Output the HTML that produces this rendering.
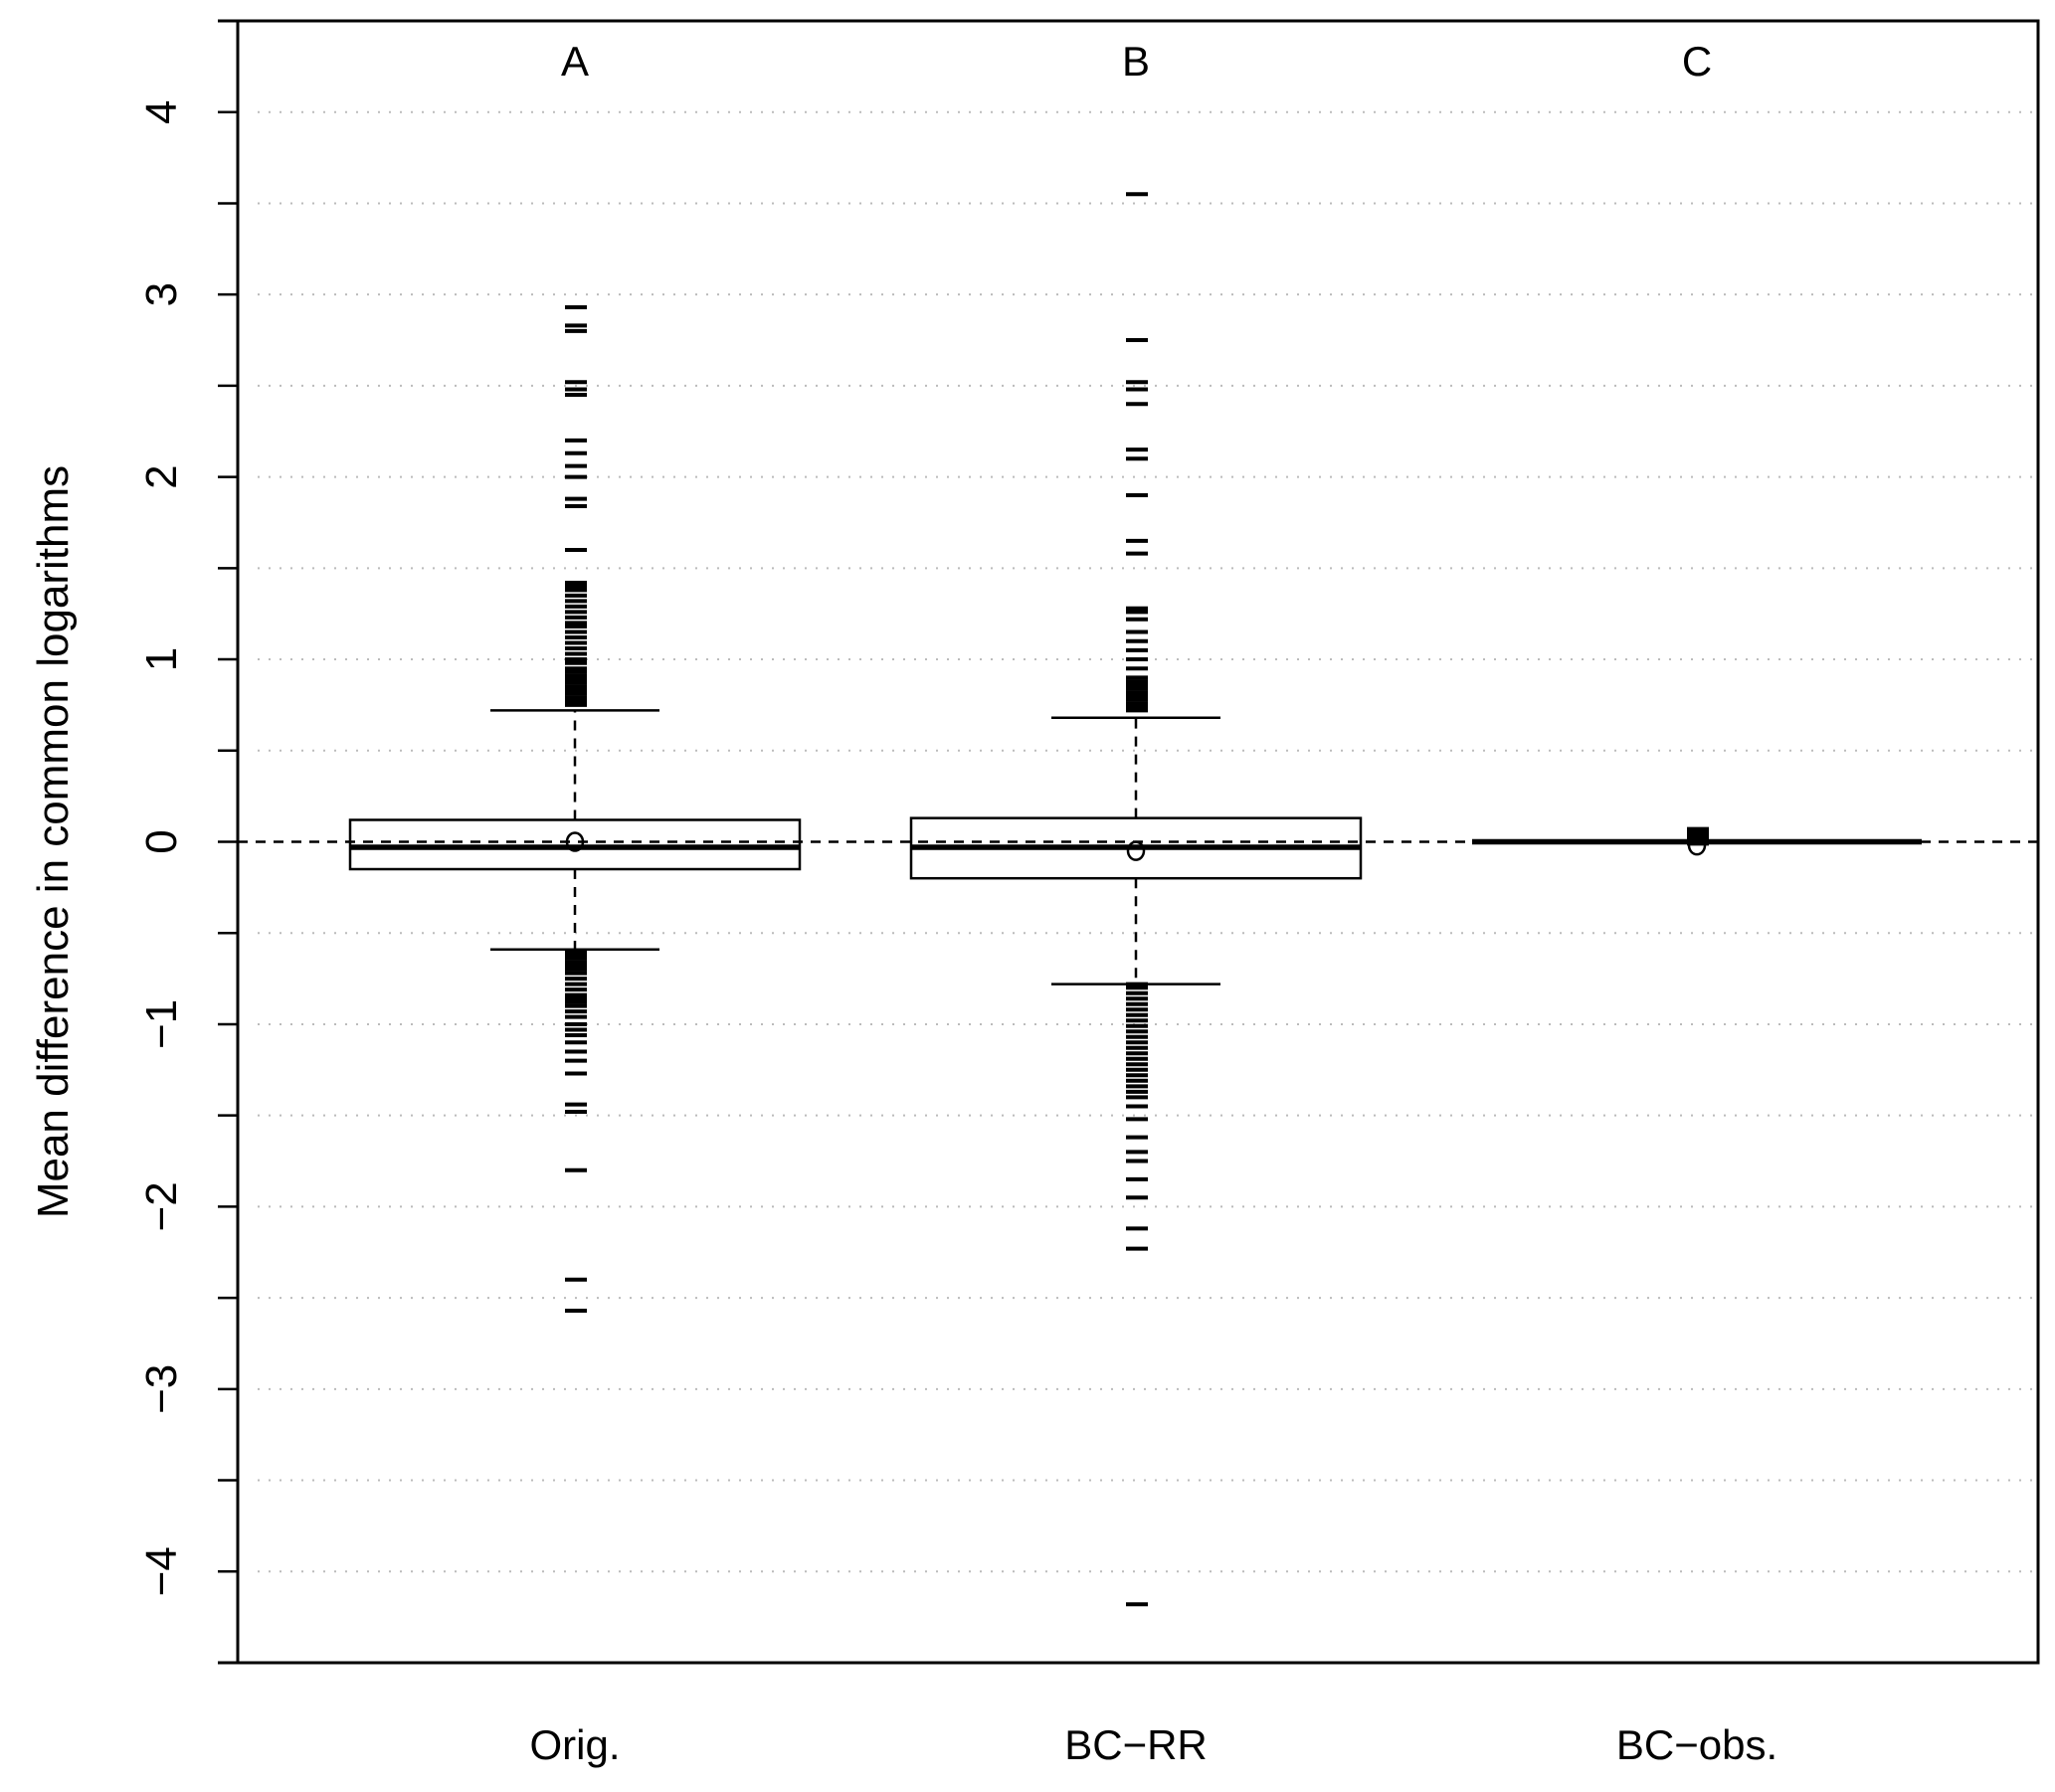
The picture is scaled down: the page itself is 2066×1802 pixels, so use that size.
<!DOCTYPE html>
<html><head><meta charset="utf-8">
<style>
html,body{margin:0;padding:0;background:#fff;}
svg{display:block;font-family:"Liberation Sans",sans-serif;}
</style></head>
<body>
<svg id="chart" width="2066" height="1802" viewBox="0 0 2066 1802" xmlns="http://www.w3.org/2000/svg"></svg>
<script>
const categories = ["Orig.", "BC\u2212RR", "BC\u2212obs."];
const panelLetters = ["A", "B", "C"];
const q1 = [-0.15, -0.20, 0.0];
const q3 = [0.12, 0.13, 0.0];
const medians = [-0.03, -0.03, 0.0];
const means = [0.0, -0.05, -0.02];
const whiskerLow = [-0.59, -0.78, 0.0];
const whiskerHigh = [0.72, 0.68, 0.0];
const outliersA = [0.75,0.77,0.79,0.81,0.83,0.85,0.87,0.89,0.91,0.93,0.95,0.98,1.0,1.03,1.06,1.09,1.12,1.15,1.18,1.2,1.23,1.26,1.29,1.32,1.35,1.38,1.4,1.42,1.6,1.84,1.88,2.0,2.06,2.13,2.2,2.45,2.48,2.52,2.8,2.83,2.93,
 -0.6,-0.62,-0.64,-0.66,-0.68,-0.7,-0.72,-0.75,-0.78,-0.81,-0.84,-0.86,-0.88,-0.9,-0.93,-0.96,-1.0,-1.03,-1.06,-1.1,-1.15,-1.2,-1.27,-1.44,-1.48,-1.8,-2.4,-2.57];
const outliersB = [0.72,0.74,0.76,0.78,0.8,0.82,0.84,0.86,0.88,0.9,0.95,1.0,1.05,1.1,1.15,1.22,1.26,1.28,1.58,1.65,1.9,2.1,2.15,2.4,2.48,2.52,2.75,3.55,
 -0.78,-0.8,-0.83,-0.86,-0.89,-0.92,-0.95,-0.98,-1.01,-1.04,-1.07,-1.1,-1.13,-1.16,-1.19,-1.22,-1.25,-1.28,-1.31,-1.34,-1.37,-1.4,-1.45,-1.52,-1.62,-1.7,-1.75,-1.85,-1.95,-2.12,-2.23,-4.18];
const outliersC = [0.0,0.01,0.02,0.03,0.04,0.05,0.06,0.07,-0.01];
const outliers = [outliersA, outliersB, outliersC];
const yTicks = [-4.5,-4,-3.5,-3,-2.5,-2,-1.5,-1,-0.5,0,0.5,1,1.5,2,2.5,3,3.5,4,4.5];
const yLabels = ["-4","-3","-2","-1","0","1","2","3","4"];

const L=239,R=2049,T=21,B=1672;
const yMin=-4.5,yMax=4.5;
function y(v){return B-(v-yMin)/(yMax-yMin)*(B-T);}
const gap=564, x0=578;
function x(i){return x0+i*gap;}
const svg=document.getElementById('chart');
const NS="http://www.w3.org/2000/svg";
function mk(tag,attrs,parent){const e=document.createElementNS(NS,tag);for(const k in attrs)e.setAttribute(k,attrs[k]);(parent||svg).appendChild(e);return e;}

for(const t of yTicks){
  if(t===-4.5||t===4.5||t===0)continue;
  const g=mk('line',{x1:L+20,x2:R,y1:y(t),y2:y(t),stroke:'#bbb','stroke-width':2,'stroke-dasharray':'2 9'});
  
  
}
const zl=mk('line',{x1:L,x2:R,y1:y(0),y2:y(0),stroke:'#000','stroke-width':2.5,'stroke-dasharray':'10 8'});



for(let i=0;i<3;i++){
  const g=mk('g',{});
  
  
  const cx=x(i), hw=226, cw=85;
  if(whiskerHigh[i]!==q3[i]){
    mk('line',{x1:cx,x2:cx,y1:y(q3[i]),y2:y(whiskerHigh[i]),stroke:'#000','stroke-width':2.5,'stroke-dasharray':'10 8'},g);
    mk('line',{x1:cx,x2:cx,y1:y(q1[i]),y2:y(whiskerLow[i]),stroke:'#000','stroke-width':2.5,'stroke-dasharray':'10 8'},g);
    const wh=mk('line',{x1:cx-cw,x2:cx+cw,y1:y(whiskerHigh[i]),y2:y(whiskerHigh[i]),stroke:'#000','stroke-width':2.5},g);
    
    
    const wl=mk('line',{x1:cx-cw,x2:cx+cw,y1:y(whiskerLow[i]),y2:y(whiskerLow[i]),stroke:'#000','stroke-width':2.5},g);
    
    
  }
  mk('rect',{x:cx-hw,y:y(q3[i]),width:2*hw,height:Math.max(0,y(q1[i])-y(q3[i])),fill:'none',stroke:'#000','stroke-width':2.5},g);
  const md=mk('line',{x1:cx-hw,x2:cx+hw,y1:y(medians[i]),y2:y(medians[i]),stroke:'#000','stroke-width':5.5},g);
  
  
  for(const v of outliers[i]){
    const o=mk('line',{x1:cx-10,x2:cx+12,y1:y(v),y2:y(v),stroke:'#000','stroke-width':4},g);
    
    
  }
  const mc=mk('ellipse',{cx:cx,cy:y(means[i]),rx:8,ry:9,fill:'none',stroke:'#000','stroke-width':2.5},g);
  
  
  const lt=mk('text',{x:cx,y:76,'font-size':42,'text-anchor':'middle'},g);
  lt.textContent=panelLetters[i];
  
  
  const xl=mk('text',{x:cx,y:1769,'font-size':42,'text-anchor':'middle'});
  xl.textContent=categories[i];
  
  
}

const fr=mk('path',{d:`M${L-20},${T} H${R} V${B} H${L-20} M${L},${T} V${B}`,fill:'none',stroke:'#000','stroke-width':3});


for(const t of yTicks){
  const tk=mk('line',{x1:L-20,x2:L,y1:y(t),y2:y(t),stroke:'#000','stroke-width':2.5});
  
  
}
for(const s of yLabels){
  const v=parseFloat(s);
  const tx=mk('text',{x:0,y:0,'font-size':44,'text-anchor':'middle',transform:`translate(177,${y(v)}) rotate(-90)`});
  tx.textContent=s.replace('-','\u2212');
  
  
}
const yt=mk('text',{x:0,y:0,'font-size':44,'text-anchor':'middle',transform:`translate(68,${y(0)}) rotate(-90)`});
yt.textContent='Mean difference in common logarithms';


</script>
</body></html>
